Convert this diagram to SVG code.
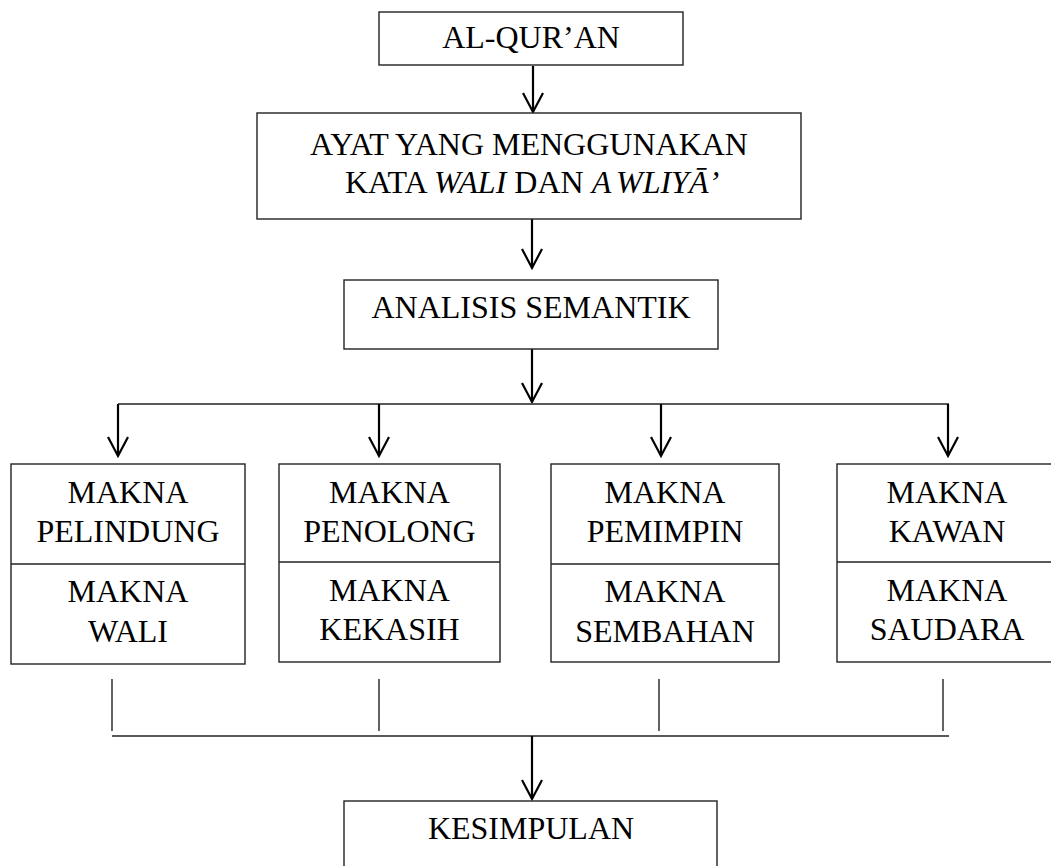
<svg xmlns="http://www.w3.org/2000/svg" width="1051" height="866" viewBox="0 0 1051 866">
<defs>
<marker id="ah" markerUnits="userSpaceOnUse" markerWidth="30" markerHeight="30" refX="0" refY="0" orient="auto" viewBox="-25 -15 30 30" overflow="visible">
<path d="M-19,-10 L0,0 L-19,10" fill="none" stroke="#000" stroke-width="2.2"/>
</marker>
<style>
.box{fill:#fff;stroke:#222;stroke-width:1.4}
.t{font-family:"Liberation Serif","Times New Roman",serif;font-size:32px;fill:#000;text-anchor:middle}
.i{font-style:italic}
.arr{stroke:#000;stroke-width:2.2;fill:none;marker-end:url(#ah)}
.ln{stroke:#222;stroke-width:1.4;fill:none}
</style>
</defs>
<rect width="1051" height="866" fill="#fff"/>
<g id="connectors">
<line class="arr" x1="533" y1="66" x2="533" y2="112"/>
<line class="arr" x1="532" y1="219" x2="532" y2="268"/>
<line class="arr" x1="532" y1="349" x2="532" y2="402"/>
<line class="ln" x1="118" y1="404" x2="949" y2="404"/>
<line class="arr" x1="118" y1="404" x2="118" y2="456"/>
<line class="arr" x1="379" y1="404" x2="379" y2="456"/>
<line class="arr" x1="661" y1="404" x2="661" y2="456"/>
<line class="arr" x1="948" y1="404" x2="948" y2="456"/>
<line class="ln" x1="112" y1="679" x2="112" y2="731"/>
<line class="ln" x1="379" y1="679" x2="379" y2="731"/>
<line class="ln" x1="659" y1="679" x2="659" y2="731"/>
<line class="ln" x1="943" y1="679" x2="943" y2="731"/>
<line class="ln" x1="112" y1="736" x2="949" y2="736"/>
<line class="arr" x1="532" y1="736" x2="532" y2="799"/>
</g>
<g id="alquran">
<rect class="box" x="379" y="12" width="304" height="53"/>
<text class="t" x="531" y="48">AL-QUR’AN</text>
</g>
<g id="ayat">
<rect class="box" x="257" y="113" width="544" height="106"/>
<text class="t" x="529" y="155">AYAT YANG MENGGUNAKAN</text>
<text class="t" x="532" y="193">KATA <tspan class="i">WALI</tspan> DAN <tspan class="i">A<tspan dx="6">WLIYĀ’</tspan></tspan></text>
</g>
<g id="analisis">
<rect class="box" x="344" y="280" width="374" height="69"/>
<text class="t" x="531" y="318">ANALISIS SEMANTIK</text>
</g>
<g id="pelindung">
<rect class="box" x="11" y="464" width="234" height="200"/>
<line class="ln" x1="11" y1="564" x2="245" y2="564"/>
<text class="t" x="128" y="503">MAKNA</text>
<text class="t" x="128" y="542">PELINDUNG</text>
<text class="t" x="128" y="602">MAKNA</text>
<text class="t" x="128" y="642">WALI</text>
</g>
<g id="penolong">
<rect class="box" x="279" y="464" width="221" height="198"/>
<line class="ln" x1="279" y1="562" x2="500" y2="562"/>
<text class="t" x="389.5" y="503">MAKNA</text>
<text class="t" x="389.5" y="542">PENOLONG</text>
<text class="t" x="389.5" y="601">MAKNA</text>
<text class="t" x="389.5" y="640">KEKASIH</text>
</g>
<g id="pemimpin">
<rect class="box" x="551" y="464" width="228" height="198"/>
<line class="ln" x1="551" y1="564" x2="779" y2="564"/>
<text class="t" x="665" y="503">MAKNA</text>
<text class="t" x="665" y="542">PEMIMPIN</text>
<text class="t" x="665" y="602">MAKNA</text>
<text class="t" x="665" y="642">SEMBAHAN</text>
</g>
<g id="kawan">
<rect class="box" x="837" y="464" width="222" height="198"/>
<line class="ln" x1="837" y1="562" x2="1059" y2="562"/>
<text class="t" x="947" y="503">MAKNA</text>
<text class="t" x="947" y="542">KAWAN</text>
<text class="t" x="947" y="601">MAKNA</text>
<text class="t" x="947" y="640">SAUDARA</text>
</g>
<g id="kesimpulan">
<rect class="box" x="344" y="801" width="373" height="80"/>
<text class="t" x="531" y="839">KESIMPULAN</text>
</g>
</svg>
